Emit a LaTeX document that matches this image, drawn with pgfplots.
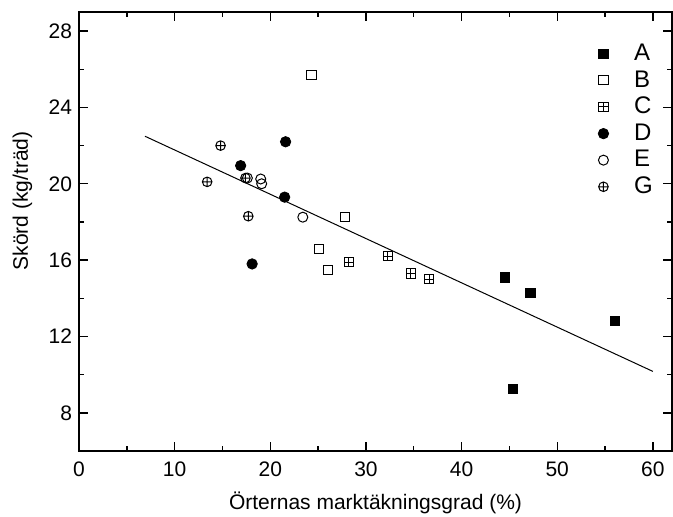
\documentclass[border=0pt]{standalone}
\usepackage{pgfplots}
\pgfplotsset{compat=1.18}
\usepackage{fontspec}
\setmainfont{Liberation Sans}
\usetikzlibrary{plotmarks}
\pgfdeclareplotmark{boxplus}{%
  \pgfpathrectangle{\pgfpoint{-\pgfplotmarksize}{-\pgfplotmarksize}}{\pgfpoint{2\pgfplotmarksize}{2\pgfplotmarksize}}%
  \pgfpathmoveto{\pgfpoint{-\pgfplotmarksize}{0pt}}\pgfpathlineto{\pgfpoint{\pgfplotmarksize}{0pt}}%
  \pgfpathmoveto{\pgfpoint{0pt}{-\pgfplotmarksize}}\pgfpathlineto{\pgfpoint{0pt}{\pgfplotmarksize}}%
  \pgfusepathqstroke}
\begin{document}
\begin{tikzpicture}
\begin{axis}[
  scale only axis, width=296.5pt, height=219.5pt,
  xmin=0, xmax=62, ymin=6, ymax=29,
  xtick={0,10,...,60}, ytick={8,12,...,28},
  minor x tick num=1, minor y tick num=1,
  tick align=inside,
  major tick length=4.5pt, minor tick length=2.5pt,
  every tick/.style={black, line width=0.7pt},
  axis line style={line width=1pt},
  /pgf/number format/assume math mode=true,
  ticklabel style={font=\fontsize{10.5}{12}\selectfont},
  xticklabel style={anchor=center, yshift=-9pt},
  xlabel={Örternas marktäkningsgrad (\%)},
  ylabel={Skörd (kg/träd)},
  label style={font=\fontsize{10.5}{12}\selectfont},
  xlabel style={at={(axis description cs:0.5,-0.1185)}, anchor=center},
  ylabel style={at={(axis description cs:-0.0953,0.57)}, anchor=center},
  legend style={draw=none, fill=none, at={(0.985,0.946)}, anchor=north east,
    font=\fontsize{12}{14}\selectfont, row sep=-0.5pt,
    /tikz/every odd column/.append style={column sep=10.7pt}},
  legend cell align=left,
]
\addplot[only marks, mark=square*, mark size=2.3pt, black] coordinates {
 (44.5,15.1) (47.2,14.3) (45.4,9.25) (56.0,12.8)};
\addlegendentry{A}
\addplot[only marks, mark=square, mark size=2.3pt, black, mark options={fill=white, line width=0.5pt}] coordinates {
 (24.3,25.7) (27.8,18.25) (25.1,16.6) (26.0,15.47)};
\addlegendentry{B}
\addplot[only marks, mark=boxplus, mark size=2.3pt, black, mark options={line width=0.5pt}] coordinates {
 (28.2,15.9) (32.3,16.2) (34.7,15.3) (36.6,15.0)};
\addlegendentry{C}
\addplot[only marks, mark=*, mark size=2.6pt, black] coordinates {
 (21.6,22.2) (16.9,20.95) (21.5,19.3) (18.1,15.8)};
\addlegendentry{D}
\addplot[only marks, mark=o, mark size=2.5pt, black, mark options={fill=white, line width=0.5pt}] coordinates {
 (17.6,20.3) (19.0,20.25) (19.1,20.0) (23.4,18.25)};
\addlegendentry{E}
\addplot[only marks, mark=oplus, mark size=2.4pt, black, mark options={fill=white, line width=0.5pt}] coordinates {
 (14.8,22.0) (17.4,20.3) (13.4,20.1) (17.7,18.3)};
\addlegendentry{G}
\addplot[black, line width=0.5pt, forget plot] coordinates {(6.9,22.49) (60,10.17)};
\end{axis}
\pgfresetboundingbox
\path ([xshift=-39.5pt,yshift=-33pt]current axis.south west) rectangle ([xshift=0.5pt,yshift=6pt]current axis.north east);
\end{tikzpicture}
\end{document}
